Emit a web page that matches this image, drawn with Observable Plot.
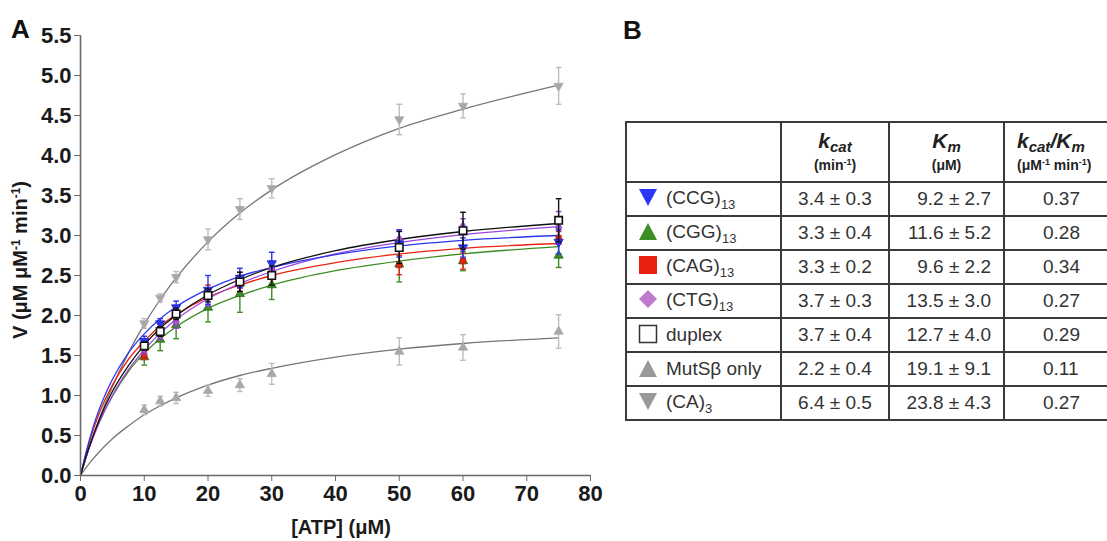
<!DOCTYPE html>
<html><head><meta charset="utf-8">
<script src="https://cdn.jsdelivr.net/npm/d3@7"></script>
<script src="https://cdn.jsdelivr.net/npm/@observablehq/plot@0.6"></script>
<style>
html,body{margin:0;padding:0;background:#fff;overflow:hidden;}
#wrap{position:relative;width:1107px;height:541px;font-family:"Liberation Sans",Arial,sans-serif;overflow:hidden;}
#chart{position:absolute;left:0;top:0;}
#chart svg g[aria-label$="tick label"]{font-weight:bold;font-size:22px;}
.panel{position:absolute;font-weight:bold;font-size:26px;line-height:1;color:#111;}
#tbl{position:absolute;left:625px;top:121px;width:505px;border-collapse:collapse;font-size:19px;color:#333;table-layout:fixed;}
#tbl td,#tbl th{border:2px solid #3a3a3a;padding:0;white-space:nowrap;}
#tbl th{height:58px;text-align:center;font-weight:bold;color:#222;line-height:1.05;}
#tbl th .big{font-size:21px;font-style:italic;}
#tbl th .big sub{font-size:15px;vertical-align:-4px;}
#tbl th .unit{font-size:14px;}
#tbl th .unit sup{font-size:9px;vertical-align:5px;}
#tbl td{height:32px;}
#tbl td.name{padding-left:11px;}
#tbl td.name svg{vertical-align:-3px;margin-right:8px;}
#tbl td.name sub{font-size:13px;vertical-align:-5px;}
#tbl td.c{text-align:center;}
#tbl td.r{text-align:right;padding-right:12px;}
</style></head>
<body>
<div id="wrap">
  <div id="chart"></div>
  <div class="panel" style="left:11px;top:16px;">A</div>
  <div class="panel" style="left:623px;top:17px;">B</div>
  <table id="tbl"></table>
</div>
<script>
// ---------- data ----------
const atp = [10, 12.5, 15, 20, 25, 30, 50, 60, 75];

const vCCG = [1.68, 1.90, 2.10, 2.32, 2.47, 2.65, 2.90, 2.85, 2.92];
const eCCG = [0.06, 0.06, 0.08, 0.18, 0.12, 0.14, 0.17, 0.12, 0.15];
const vCGG = [1.48, 1.70, 1.88, 2.10, 2.27, 2.38, 2.64, 2.68, 2.75];
const eCGG = [0.10, 0.14, 0.17, 0.18, 0.23, 0.18, 0.22, 0.12, 0.15];
const vCAG = [1.50, 1.83, 2.00, 2.30, 2.40, 2.55, 2.63, 2.68, 2.97];
const eCAG = [0.05, 0.06, 0.07, 0.08, 0.10, 0.10, 0.12, 0.10, 0.08];
const vCTG = [1.58, 1.76, 1.92, 2.22, 2.44, 2.58, 2.95, 3.11, 3.10];
const eCTG = [0.06, 0.06, 0.08, 0.10, 0.10, 0.10, 0.12, 0.10, 0.20];
const vDuplex = [1.62, 1.80, 2.02, 2.25, 2.42, 2.50, 2.85, 3.06, 3.19];
const eDuplex = [0.05, 0.06, 0.07, 0.08, 0.12, 0.12, 0.20, 0.23, 0.27];
const vMutS = [0.82, 0.93, 0.97, 1.06, 1.13, 1.27, 1.55, 1.60, 1.80];
const eMutS = [0.06, 0.06, 0.07, 0.07, 0.08, 0.13, 0.17, 0.16, 0.21];
const vCA = [1.90, 2.22, 2.48, 2.95, 3.33, 3.59, 4.45, 4.62, 4.87];
const eCA = [0.06, 0.05, 0.07, 0.13, 0.13, 0.12, 0.19, 0.15, 0.23];

// fitted curves, sampled from the figure
const curveATP = [0, 1, 2, 3, 5, 7.5, 10, 12.5, 15, 20, 25, 30, 40, 50, 60, 75];
const fitCCG = [0, 0.33, 0.61, 0.84, 1.20, 1.53, 1.77, 1.96, 2.11, 2.33, 2.49, 2.60, 2.76, 2.87, 2.94, 3.00];
const fitCGG = [0, 0.26, 0.49, 0.68, 0.99, 1.30, 1.53, 1.71, 1.86, 2.09, 2.25, 2.38, 2.56, 2.68, 2.77, 2.86];
const fitCAG = [0, 0.31, 0.57, 0.79, 1.13, 1.45, 1.68, 1.87, 2.01, 2.23, 2.38, 2.50, 2.66, 2.77, 2.84, 2.90];
const fitCTG = [0, 0.26, 0.48, 0.67, 1.00, 1.32, 1.57, 1.78, 1.95, 2.21, 2.40, 2.55, 2.77, 2.91, 3.01, 3.11];
const fitDuplex = [0, 0.27, 0.50, 0.71, 1.05, 1.37, 1.63, 1.84, 2.00, 2.26, 2.45, 2.60, 2.81, 2.95, 3.05, 3.15];
const fitMutS = [0, 0.11, 0.21, 0.30, 0.46, 0.62, 0.76, 0.87, 0.97, 1.13, 1.25, 1.34, 1.48, 1.58, 1.65, 1.72];
const fitCA = [0, 0.26, 0.50, 0.72, 1.11, 1.53, 1.89, 2.20, 2.47, 2.92, 3.28, 3.57, 4.01, 4.34, 4.58, 4.88];

const xTicks = [0, 10, 20, 30, 40, 50, 60, 70, 80];
const yTicks = [0, 0.5, 1, 1.5, 2, 2.5, 3, 3.5, 4, 4.5, 5, 5.5];

// table (panel B)
const tableNames = ["(CCG)", "(CGG)", "(CAG)", "(CTG)", "duplex", "MutSβ only", "(CA)"];
const tableSubs = ["13", "13", "13", "13", "", "", "3"];
const kcatVal = [3.4, 3.3, 3.3, 3.7, 3.7, 2.2, 6.4];
const kcatErr = [0.3, 0.4, 0.2, 0.3, 0.4, 0.4, 0.5];
const kmVal = [9.2, 11.6, 9.6, 13.5, 12.7, 19.1, 23.8];
const kmErr = [2.7, 5.2, 2.2, 3.0, 4.0, 9.1, 4.3];
const efficiency = [0.37, 0.28, 0.34, 0.27, 0.29, 0.11, 0.27];

// ---------- styling ----------
const series = [
  {v: vCA, e: eCA, fit: fitCA, line: "#767676", bar: "#bdbdbd", fill: "#a8a8a8", stroke: "#a8a8a8", symbol: "triangle", rotate: 180, r: 3.4},
  {v: vMutS, e: eMutS, fit: fitMutS, line: "#767676", bar: "#bdbdbd", fill: "#a8a8a8", stroke: "#a8a8a8", symbol: "triangle", rotate: 0, r: 3.4},
  {v: vCGG, e: eCGG, fit: fitCGG, line: "#3c8d24", bar: "#3c8d24", fill: "#3c8d24", stroke: "#2a6a18", symbol: "triangle", rotate: 0, r: 3.4},
  {v: vCAG, e: eCAG, fit: fitCAG, line: "#ea2412", bar: "#ea2412", fill: "#e8220f", stroke: "#b81a0c", symbol: "square", rotate: 0, r: 3.0},
  {v: vCTG, e: eCTG, fit: fitCTG, line: "#9a45e0", bar: "#9a45e0", fill: "#a457d6", stroke: "#7a35b0", symbol: "diamond", rotate: 0, r: 3.2},
  {v: vCCG, e: eCCG, fit: fitCCG, line: "#2a36f2", bar: "#2a36f2", fill: "#2a36f2", stroke: "#1a24b0", symbol: "triangle", rotate: 180, r: 3.4},
  {v: vDuplex, e: eDuplex, fit: fitDuplex, line: "#111111", bar: "#111111", fill: "#ffffff", stroke: "#111111", symbol: "square", rotate: 0, r: 4.2}
];

const lineMarks = [];
const pointMarks = [];
series.forEach((s, i) => {
  const curve = curveATP.map((x, j) => ({x, y: s.fit[j]}));
  const pts = atp.map((x, j) => ({x, y: s.v[j], e: s.e[j]}));
  lineMarks.push(Plot.line(curve, {x: "x", y: "y", stroke: s.line, strokeWidth: 1.3, curve: "monotone-x"}));
  pointMarks.push(
    Plot.ruleX(pts, {x: "x", y1: d => d.y - d.e, y2: d => d.y + d.e, stroke: s.bar, strokeWidth: 1.4}),
    Plot.link(pts, {x1: d => d.x - 0.45, x2: d => d.x + 0.45, y1: d => d.y + d.e, y2: d => d.y + d.e, stroke: s.bar, strokeWidth: 1.4}),
    Plot.link(pts, {x1: d => d.x - 0.45, x2: d => d.x + 0.45, y1: d => d.y - d.e, y2: d => d.y - d.e, stroke: s.bar, strokeWidth: 1.4}),
    Plot.dot(pts, {x: "x", y: "y", symbol: s.symbol, rotate: s.rotate, r: s.r, fill: s.fill, stroke: s.stroke, strokeWidth: s.fill === "#ffffff" ? 1.6 : 0.8})
  );
});

const chart = Plot.plot({
  width: 610,
  height: 541,
  marginLeft: 80,
  marginRight: 20,
  marginTop: 35,
  marginBottom: 66,
  x: {domain: [0, 80], label: null},
  y: {domain: [0, 5.5], label: null},
  style: {fontFamily: "'Liberation Sans', Arial, sans-serif", fontSize: "22px", color: "#1a1a1a", background: "white", overflow: "visible"},
  marks: [
    ...lineMarks,
    ...pointMarks,
    Plot.ruleX([0], {stroke: "#6a6a6a", strokeWidth: 1.6}),
    Plot.ruleY([0], {stroke: "#6a6a6a", strokeWidth: 1.6}),
    Plot.axisX({ticks: xTicks, tickSize: 6, tickPadding: 4, label: null, fontSize: 22, fontWeight: "bold", stroke: "#6a6a6a"}),
    Plot.axisY({ticks: yTicks, tickFormat: d3.format(".1f"), tickSize: 6, tickPadding: 3, label: null, fontSize: 22, fontWeight: "bold", stroke: "#6a6a6a"})
  ]
});
document.getElementById("chart").appendChild(chart);

const svg = d3.select(chart);
// y-axis title
const yl = svg.append("text")
  .attr("transform", "rotate(-90)")
  .attr("x", -260).attr("y", 27)
  .attr("text-anchor", "middle")
  .attr("font-weight", "bold").attr("font-size", 20).attr("fill", "#1a1a1a");
yl.append("tspan").text("V (μM μM");
yl.append("tspan").attr("font-size", 12).attr("baseline-shift", "super").text("-1");
yl.append("tspan").text(" min");
yl.append("tspan").attr("font-size", 12).attr("baseline-shift", "super").text("-1");
yl.append("tspan").text(")");
// x-axis title
svg.append("text")
  .attr("x", 341).attr("y", 534)
  .attr("text-anchor", "middle")
  .attr("font-weight", "bold").attr("font-size", 20).attr("fill", "#1a1a1a")
  .text("[ATP] (μM)");

// ---------- table ----------
const symbolSvgs = [
  '<svg width="20" height="20"><polygon points="1,2 19,2 10,19" fill="#2a36f2"/></svg>',
  '<svg width="20" height="20"><polygon points="1,19 19,19 10,2" fill="#3c8d24"/></svg>',
  '<svg width="20" height="20"><rect x="1" y="1" width="18" height="18" fill="#e8220f"/></svg>',
  '<svg width="20" height="20"><polygon points="10,1 19,10 10,19 1,10" fill="#c07ad0"/></svg>',
  '<svg width="20" height="20"><rect x="1.5" y="1.5" width="17" height="17" fill="#fff" stroke="#333" stroke-width="1.5"/></svg>',
  '<svg width="20" height="20"><polygon points="1,19 19,19 10,2" fill="#999"/></svg>',
  '<svg width="20" height="20"><polygon points="1,2 19,2 10,19" fill="#999"/></svg>'
];
const tbl = document.getElementById("tbl");
let html = '<colgroup><col style="width:155px"><col style="width:108px"><col style="width:115px"><col style="width:127px"></colgroup>';
html += '<tr><th></th>' +
  '<th><span class="big">k<sub>cat</sub></span><br><span class="unit">(min<sup>-1</sup>)</span></th>' +
  '<th><span class="big">K<sub>m</sub></span><br><span class="unit">(μM)</span></th>' +
  '<th style="text-align:left;padding-left:12px"><span class="big">k<sub>cat</sub>/K<sub>m</sub></span><br><span class="unit">(μM<sup>-1</sup> min<sup>-1</sup>)</span></th></tr>';
tableNames.forEach((n, i) => {
  html += '<tr><td class="name">' + symbolSvgs[i] + n + (tableSubs[i] ? '<sub>' + tableSubs[i] + '</sub>' : '') + '</td>' +
    '<td class="c">' + kcatVal[i].toFixed(1) + ' ± ' + kcatErr[i].toFixed(1) + '</td>' +
    '<td class="r">' + kmVal[i].toFixed(1) + ' ± ' + kmErr[i].toFixed(1) + '</td>' +
    '<td style="padding-left:38px">' + efficiency[i].toFixed(2) + '</td></tr>';
});
tbl.innerHTML = html;
</script>
</body></html>
